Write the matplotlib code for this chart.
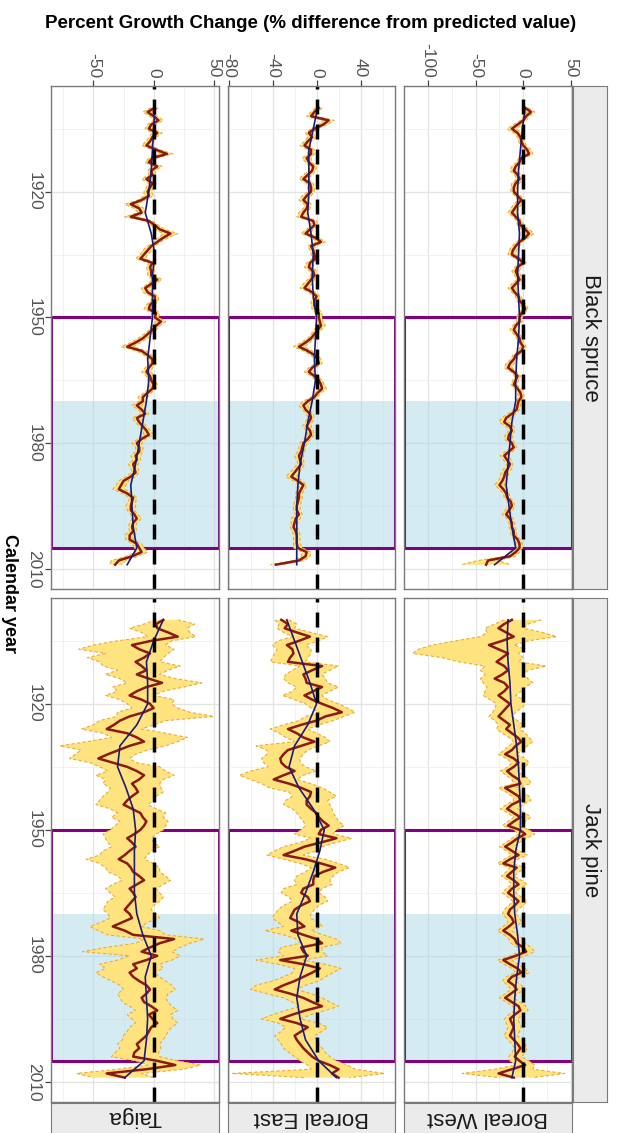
import numpy as np
import matplotlib
matplotlib.use("Agg")
import matplotlib.pyplot as plt
from matplotlib.patches import Rectangle

plt.rcParams['font.family'] = ['Liberation Sans', 'DejaVu Sans']
plt.rcParams['axes.unicode_minus'] = False

# ---------------- data ----------------
YEARS = list(range(1900, 2010))
SMOOTH_YEARS = [1900, 1905, 1910, 1915, 1920, 1925, 1930, 1935, 1940, 1945, 1950,
                1955, 1960, 1965, 1970, 1975, 1980, 1985, 1990, 1995, 2000, 2005, 2009]

SPECIES = ['Black spruce', 'Jack pine']
REGIONS = ['Taiga', 'Boreal East', 'Boreal West']

# Black spruce annual growth change (%)
BS_TAIGA = [1, -5, 0, 4, -2, -4, 3, -1, -3, -6,
            2, 11, -1, -4, 3, -2, -1, -6, -1, -3,
            -5, -4, -10, -19, -12, -10, -19, -4, 1, 5,
            14, 8, 3, -2, -5, -8, -11, -1, -3, -2,
            -2, 3, -2, -7, -5, 1, 1, -3, -4, 2,
            1, 6, 2, -1, -5, -9, -15, -22, -10, -5,
            -1, -1, -4, -6, -3, -2, 0, -1, -5, -9,
            -9, -14, -10, -7, -14, -12, -9, -6, -4, -10,
            -14, -12, -12, -15, -14, -17, -16, -15, -19, -25,
            -27, -29, -22, -17, -18, -19, -19, -16, -14, -17,
            -18, -17, -20, -20, -14, -12, -10, -18, -29, -32]
BS_EAST = [2, -2, -5, 11, 6, -2, -7, -4, -8, -11,
           -5, -5, -9, -7, -3, -4, -8, -12, -6, -5,
           -5, -9, -12, -8, -9, -12, -14, -3, -2, -6,
           -10, -1, 4, -5, -3, -2, -1, -6, -7, -3,
           -2, -5, -8, -11, -4, 0, -2, -2, -1, 2,
           2, 3, 4, 1, -2, -5, -10, -16, -8, -2,
           1, 2, -4, -7, -2, 2, 4, 5, 1, -2,
           -8, -12, -10, -6, -5, -7, -9, -6, -5, -8,
           -12, -13, -14, -16, -15, -14, -17, -20, -23, -17,
           -12, -14, -16, -16, -17, -18, -18, -16, -19, -20,
           -21, -19, -18, -18, -18, -17, -9, -10, -16, -37]
BS_WEST = [2, 8, 3, 0, -6, -12, -6, -3, -2, 0,
           4, 6, -2, -4, -8, -10, -6, -4, -8, -10,
           -10, -6, -2, -6, -9, -12, -8, -4, -3, 2,
           6, 2, -4, -8, -11, -12, -5, 0, -6, -8,
           -6, -4, -8, -12, -9, -5, -4, 0, 2, -2,
           -4, -4, -8, -10, -7, -4, -3, 0, -2, -8,
           -10, -14, -16, -10, -6, -8, -10, -6, -3, -2,
           -5, -6, -7, -12, -18, -20, -14, -12, -15, -16,
           -12, -10, -15, -20, -17, -14, -16, -19, -20, -22,
           -25, -21, -18, -17, -13, -12, -15, -18, -14, -12,
           -12, -10, -10, -6, -4, -4, -8, -14, -37, -39]

# Black spruce band half-widths
BS_TAIGA_HW = [3, 4, 3, 4, 3, 3, 4, 3, 3, 4,
               3, 5, 3, 3, 4, 3, 3, 4, 3, 3,
               3, 4, 3, 5, 4, 3, 5, 3, 3, 4,
               6, 4, 3, 3, 4, 3, 4, 3, 3, 3,
               3, 4, 3, 3, 4, 3, 3, 3, 4, 3,
               3, 4, 3, 3, 3, 4, 4, 5, 4, 3,
               3, 3, 3, 4, 3, 3, 3, 3, 3, 4,
               3, 4, 3, 3, 4, 3, 3, 3, 4, 3,
               4, 3, 3, 4, 3, 4, 3, 3, 4, 4,
               4, 5, 4, 3, 3, 4, 3, 3, 4, 3,
               3, 3, 4, 3, 4, 4, 5, 5, 6, 5]
BS_EAST_HW = [3, 3, 4, 5, 4, 3, 3, 4, 3, 4,
              3, 3, 4, 3, 3, 3, 4, 4, 3, 3,
              3, 4, 4, 3, 3, 4, 4, 3, 3, 3,
              4, 3, 4, 3, 3, 3, 3, 3, 4, 3,
              3, 3, 4, 4, 3, 3, 3, 3, 3, 3,
              3, 3, 4, 3, 3, 3, 4, 5, 4, 3,
              3, 3, 3, 4, 3, 3, 3, 4, 3, 3,
              4, 4, 3, 3, 3, 3, 4, 3, 3, 3,
              3, 3, 3, 4, 3, 3, 4, 4, 5, 4,
              3, 3, 3, 3, 3, 3, 3, 3, 4, 3,
              3, 3, 3, 3, 3, 4, 4, 4, 5, 5]
BS_WEST_HW = [3, 4, 3, 3, 4, 5, 4, 3, 3, 3,
              4, 4, 3, 3, 4, 4, 3, 3, 4, 3,
              3, 3, 3, 4, 4, 4, 3, 3, 3, 4,
              5, 3, 3, 4, 4, 4, 3, 3, 3, 4,
              3, 3, 4, 4, 3, 3, 3, 3, 3, 3,
              3, 3, 3, 4, 3, 3, 3, 3, 3, 3,
              3, 4, 4, 3, 3, 3, 3, 3, 3, 3,
              3, 3, 3, 4, 5, 5, 4, 3, 4, 4,
              3, 3, 4, 4, 4, 3, 4, 4, 4, 4,
              5, 4, 3, 3, 3, 3, 4, 4, 3, 3,
              3, 3, 3, 3, 3, 3, 4, 6, 10, 26]

# Jack pine annual growth change (%)
JP_TAIGA = [8, 2, 3, 12, 20, -2, -18, -12, -3, -8,
            -15, -10, -6, -14, -4, 7, -6, -14, -20, -10,
            -3, 0, -8, -20, -28, -33, -39, -22, -14, -8,
            -20, -29, -38, -46, -34, -22, -14, -8, -12, -18,
            -15, -13, -18, -22, -25, -18, -11, -9, -6, -8,
            -11, -16, -22, -18, -15, -20, -24, -29, -22, -19,
            -17, -12, -8, -14, -20, -17, -15, -18, -21, -24,
            -20, -18, -26, -34, -24, -17, 17, 5, -3, -10,
            3, -6, -17, -14, -20, -17, -12, -6, -3, -6,
            -10, -8, -2, 3, -4, -1, 3, -2, -4, -6,
            -10, -14, -12, -16, -17, 3, 18, -6, -39, -24]
JP_EAST = [-32, -26, -29, -18, -6, -16, -27, -22, -21, -24,
           -26, 5, -4, -12, -10, -9, 5, -3, -11, -4,
           5, 15, 23, 8, 0, -14, -26, -18, -12, -2,
           -14, -26, -30, -33, -32, -28, -20, -30, -39, -25,
           -14, -5, -6, -9, -9, -5, 0, 2, 6, 11,
           4, 2, 18, 4, -11, -20, -30, -10, 4, 17,
           6, -2, -3, -3, -12, -14, -8, -6, -14, -20,
           -22, -24, -16, -11, -23, -12, 0, 5, -14, -12,
           -8, -33, -12, 3, -4, -12, -20, -30, -38, -24,
           -12, -4, 5, -10, -22, -33, -18, -8, -14, -20,
           -18, -15, -12, -8, -4, 2, 12, 20, 14, 20]
JP_WEST = [-12, -20, -26, -18, -10, -22, -36, -26, -16, -22,
           -28, -20, -16, -22, -30, -20, -16, -20, -26, -20,
           -14, -18, -22, -26, -20, -14, -18, -12, -6, -2,
           -8, -12, -19, -10, -5, -10, -17, -12, -5, -3,
           -19, -12, -5, -3, -12, -17, -10, -3, -10, -16,
           -4, 2, -6, -12, -19, -12, -5, -14, -21, -7,
           -12, -17, -10, -5, -12, -16, -10, -5, -9, -14,
           -16, -12, -10, -15, -21, -14, -9, -7, 0, 3,
           -8, -21, -14, -6, -2, -12, -16, -10, -7, -13,
           -19, -12, -5, -3, -9, -14, -12, -10, -12, -14,
           -10, -6, -3, -6, -9, -4, 2, -12, -26, -10]

# Jack pine band bounds
JP_TAIGA_LOW = [2, -8, -20, -10, -5, -30, -50, -62, -40, -55,
                -45, -42, -30, -40, -28, -22, -34, -30, -40, -28,
                -22, -18, -30, -31, -45, -50, -60, -42, -35, -55,
                -78, -60, -65, -70, -53, -45, -38, -48, -40, -42,
                -36, -38, -42, -45, -48, -36, -30, -35, -28, -32,
                -36, -42, -40, -38, -35, -42, -45, -56, -45, -40,
                -38, -30, -26, -34, -40, -36, -32, -38, -40, -42,
                -38, -36, -44, -53, -46, -38, -8, -15, -40, -59,
                -20, -30, -45, -40, -48, -42, -35, -28, -25, -30,
                -28, -26, -20, -15, -22, -18, -15, -20, -22, -25,
                -26, -30, -28, -32, -35, -15, -5, -30, -64, -50]
JP_TAIGA_HIGH = [20, 34, 28, 30, 35, 15, 10, 17, 12, 8,
                 5, 22, 12, 5, 18, 40, 25, 8, 0, 17,
                 15, 20, 30, 50, 10, 0, -10, 10, 28, 20,
                 10, -5, -15, -20, -15, 5, 10, 17, 8, 5,
                 6, 8, 2, 0, -5, 2, 10, 8, 12, 10,
                 8, 2, -2, 0, 5, -2, -5, -8, 0, 5,
                 5, 10, 14, 8, 2, 5, 8, 5, 0, -2,
                 2, 5, -5, -10, 5, 10, 42, 30, 22, 15,
                 22, 15, 5, 8, 0, 5, 10, 15, 18, 12,
                 10, 12, 15, 20, 14, 16, 20, 15, 12, 10,
                 8, 5, 6, 4, 5, 20, 39, 25, -10, 0]
JP_EAST_LOW = [-38, -34, -36, -30, -22, -35, -40, -36, -38, -40,
               -42, -15, -22, -28, -30, -26, -18, -22, -31, -20,
               -10, -5, 2, -10, -16, -30, -42, -34, -28, -20,
               -55, -45, -45, -50, -48, -44, -60, -70, -60, -50,
               -43, -25, -22, -28, -30, -22, -18, -15, -12, -10,
               -14, -20, -5, -15, -30, -38, -45, -30, -15, -5,
               -10, -18, -20, -18, -30, -32, -25, -22, -30, -35,
               -38, -40, -35, -30, -47, -30, -18, -15, -32, -35,
               -30, -55, -35, -20, -22, -30, -40, -55, -60, -45,
               -30, -22, -15, -28, -40, -50, -35, -28, -32, -38,
               -35, -32, -30, -25, -20, -15, -8, -5, -77, -10]
JP_EAST_HIGH = [-25, -18, -20, -5, 10, 2, -10, -5, -5, -8,
                -10, 20, 12, 5, 8, 10, 20, 12, 5, 10,
                20, 28, 35, 25, 15, 2, -8, 0, 8, 12,
                2, -8, -12, -15, -15, -10, 0, -12, -18, -5,
                5, 12, 18, 10, 12, 14, 15, 18, 20, 25,
                18, 15, 32, 18, 5, 0, -12, 8, 20, 30,
                20, 15, 12, 14, 5, 2, 8, 10, 2, -2,
                -5, -6, 2, 5, -5, 6, 18, 22, 5, 5,
                10, -12, 8, 22, 15, 8, 2, -10, -18, -5,
                5, 12, 20, 8, -5, -15, 2, 10, 5, -2,
                0, 2, 5, 8, 12, 18, 28, 35, 62, 30]
JP_WEST_LOW = [-20, -30, -40, -38, -45, -71, -95, -110, -116, -85,
               -68, -40, -45, -40, -45, -42, -38, -40, -42, -35,
               -28, -30, -32, -36, -30, -26, -28, -22, -15, -10,
               -15, -20, -26, -18, -12, -16, -24, -18, -12, -10,
               -26, -18, -12, -10, -18, -24, -16, -10, -16, -22,
               -10, -5, -12, -18, -25, -18, -12, -20, -27, -14,
               -18, -23, -16, -12, -18, -22, -16, -11, -15, -20,
               -22, -18, -16, -21, -27, -20, -15, -13, -6, -4,
               -14, -27, -20, -12, -8, -18, -22, -16, -13, -19,
               -25, -18, -11, -9, -15, -20, -18, -16, -18, -20,
               -16, -12, -9, -12, -15, -14, -8, -30, -64, -25]
JP_WEST_HIGH = [19, 5, 0, 20, 35, 5, -10, 2, -5, 0,
                -5, 24, 5, 0, 5, 10, 2, -2, -8, 0,
                2, -2, -8, -12, -6, 0, -4, 2, 6, 10,
                4, 0, -8, 2, 6, 2, -6, 0, 6, 8,
                -8, 0, 6, 8, 0, -6, 2, 8, 2, -6,
                6, 12, 4, -4, -10, -4, 4, -6, -12, 2,
                -4, -10, -2, 4, -4, -8, -2, 4, 0, -6,
                -8, -4, -2, -8, -12, -6, 0, 2, 8, 12,
                2, -12, -6, 2, 6, -4, -8, -2, 2, -6,
                -10, -4, 3, 5, -1, -6, -4, -2, -4, -6,
                -2, 2, 4, 2, -2, 6, 12, 10, 43, 10]

# smoothed trends
BS_TAIGA_SM = [1, 0, -1, -2, -4, -7, -2, 1, -1, -1, -1, -3, -5, -4, -6, -9, -12, -15, -19, -18, -17, -14, -22]
BS_EAST_SM = [1, -3, -7, -7, -7, -8, -5, -3, -4, -3, 0, -1, -2, -1, -4, -8, -11, -15, -17, -18, -18, -18, -18]
BS_WEST_SM = [2, -1, -3, -5, -6, -6, -4, -5, -6, -5, -4, -5, -7, -8, -8, -12, -14, -16, -18, -15, -12, -8, -30]
JP_TAIGA_SM = [8, 0, -6, -5, -5, -14, -28, -30, -23, -17, -15, -16, -16, -16, -14, -9, -2, -7, -6, -5, -6, -8, -24]
JP_EAST_SM = [-27, -20, -13, -6, 0, -8, -20, -25, -16, -3, 7, 3, -3, -10, -18, -17, -9, -15, -18, -15, -10, 2, 18]
JP_WEST_SM = [-16, -17, -16, -14, -13, -10, -7, -5, -4, -3, -3, -8, -10, -10, -9, -6, -4, -7, -9, -10, -9, -8, -12]

# axis breaks per region (percent axis)
PCT_TICKS = {'Taiga': [-50, 0, 50], 'Boreal East': [-80, -40, 0, 40], 'Boreal West': [-100, -50, 0, 50]}
PCT_MINOR = {'Taiga': [-75, -25, 25], 'Boreal East': [-60, -20, 20, 60], 'Boreal West': [-75, -25, 25]}
YEAR_TICKS = [1920, 1950, 1980, 2010]
YEAR_MINOR = [1905, 1935, 1965, 1995]
PERIOD = (1950, 2005)
RECENT = (1970, 2005)

# assemble panels (lower, upper, annual, smooth)
def sym(vals, hw):
    return [v - h for v, h in zip(vals, hw)], [v + h for v, h in zip(vals, hw)]

PANELS = {
    ('Black spruce', 'Taiga'): (*sym(BS_TAIGA, BS_TAIGA_HW), BS_TAIGA, BS_TAIGA_SM),
    ('Black spruce', 'Boreal East'): (*sym(BS_EAST, BS_EAST_HW), BS_EAST, BS_EAST_SM),
    ('Black spruce', 'Boreal West'): (*sym(BS_WEST, BS_WEST_HW), BS_WEST, BS_WEST_SM),
    ('Jack pine', 'Taiga'): (JP_TAIGA_LOW, JP_TAIGA_HIGH, JP_TAIGA, JP_TAIGA_SM),
    ('Jack pine', 'Boreal East'): (JP_EAST_LOW, JP_EAST_HIGH, JP_EAST, JP_EAST_SM),
    ('Jack pine', 'Boreal West'): (JP_WEST_LOW, JP_WEST_HIGH, JP_WEST, JP_WEST_SM),
}

# ---------------- layout ----------------
W, H = 618, 1133
fig = plt.figure(figsize=(W / 100, H / 100), dpi=100)
fig.patch.set_facecolor('white')

def box(x0, y0, x1, y1):
    return [x0 / W, 1 - y1 / H, (x1 - x0) / W, (y1 - y0) / H]

COL_X = [(51, 219), (228, 395), (404, 572)]
ROW_Y = [(86, 589), (598, 1102)]
XLIMS = {'Taiga': (-85.3, 54.3), 'Boreal East': (-80.5, 71.3), 'Boreal West': (-125, 51)}
YLIM = (2014.8, 1894.8)

BORDER = '#7A7A7A'
for ri, sp in enumerate(SPECIES):
    for ci, rg in enumerate(REGIONS):
        x0, x1 = COL_X[ci]
        y0, y1 = ROW_Y[ri]
        ax = fig.add_axes(box(x0, y0, x1, y1))
        ax.set_xlim(*XLIMS[rg])
        ax.set_ylim(*YLIM)
        ax.set_xticks(PCT_TICKS[rg])
        ax.set_xticks(PCT_MINOR[rg], minor=True)
        ax.set_yticks(YEAR_TICKS)
        ax.set_yticks(YEAR_MINOR, minor=True)
        ax.set_axisbelow(True)
        ax.grid(which='major', color='#E3E3E3', lw=0.9)
        ax.grid(which='minor', color='#F0F0F0', lw=0.6)

        ax.axhspan(RECENT[0], RECENT[1], facecolor='#ADD8E6', alpha=0.5, lw=0, zorder=1)
        ax.add_patch(Rectangle((0, PERIOD[0]), 1, PERIOD[1] - PERIOD[0],
                               transform=ax.get_yaxis_transform(), fill=False,
                               ec='#800080', lw=2.2, zorder=2))

        low, high, vals, sm = PANELS[(sp, rg)]
        ax.fill_betweenx(YEARS, low, high, facecolor='#FFE37E', lw=0, zorder=3)
        ax.plot(low, YEARS, color='#EAAE3A', lw=0.8, ls=(0, (3, 2)), zorder=3.5)
        ax.plot(high, YEARS, color='#EAAE3A', lw=0.8, ls=(0, (3, 2)), zorder=3.5)
        ax.plot(vals, YEARS, color='#8B1A12', lw=1.8, zorder=4)
        ax.plot(sm, SMOOTH_YEARS, color='#1C1C7A', lw=1.2, zorder=5)
        ax.axvline(0, color='black', lw=2.5, ls=(0, (4.3, 2.9)), zorder=6)

        for s in ax.spines.values():
            s.set_color(BORDER)
            s.set_linewidth(1.0)
            s.set_zorder(10)

        ax.tick_params(which='minor', length=0)
        if ri == 0:
            ax.tick_params(axis='x', which='major', top=True, labeltop=True,
                           bottom=False, labelbottom=False, length=4, width=0.9,
                           color='#444444', labelsize=12.5, labelcolor='#555555',
                           labelrotation=270, pad=2)
        else:
            ax.tick_params(axis='x', which='major', top=False, labeltop=False,
                           bottom=False, labelbottom=False, length=0)
        if ci == 0:
            ax.tick_params(axis='y', which='major', left=True, labelleft=True,
                           length=4, width=0.9, color='#444444', labelsize=12.5,
                           labelcolor='#555555', labelrotation=270, pad=3)
            for lb in ax.get_yticklabels():
                lb.set_va('center')
        else:
            ax.tick_params(axis='y', which='major', left=False, labelleft=False, length=0)

# strips on the right (species)
for ri, sp in enumerate(SPECIES):
    y0, y1 = ROW_Y[ri]
    sax = fig.add_axes(box(573, y0, 607, y1))
    sax.set_facecolor('#EBEBEB')
    sax.set_xticks([]); sax.set_yticks([])
    for s in sax.spines.values():
        s.set_color(BORDER)
    sax.text(0.5, 0.5, sp, rotation=270, ha='center', va='center',
             fontsize=16, color='#1A1A1A', transform=sax.transAxes)

# strips at the bottom (regions)
SB0, SB1 = 1103, 1140
for ci, rg in enumerate(REGIONS):
    x0, x1 = COL_X[ci]
    sax = fig.add_axes(box(x0, SB0, x1, SB1))
    sax.set_facecolor('#EBEBEB')
    sax.set_xticks([]); sax.set_yticks([])
    for s in sax.spines.values():
        s.set_color(BORDER)
    sax.text(0.5, (SB1 - 1117) / (SB1 - SB0), rg, rotation=180, ha='center', va='center',
             fontsize=16, color='#1A1A1A', transform=sax.transAxes)

fig.text(311 / W, 1 - 24 / H, 'Percent Growth Change (% difference from predicted value)',
         ha='center', va='center', fontsize=13.5, fontweight='bold', color='black')
fig.text(9 / W, 1 - 594 / H, 'Calendar year', rotation=270, ha='center', va='center',
         fontsize=13, fontweight='bold', color='black')

fig.savefig('out.png', dpi=100, facecolor='white')
